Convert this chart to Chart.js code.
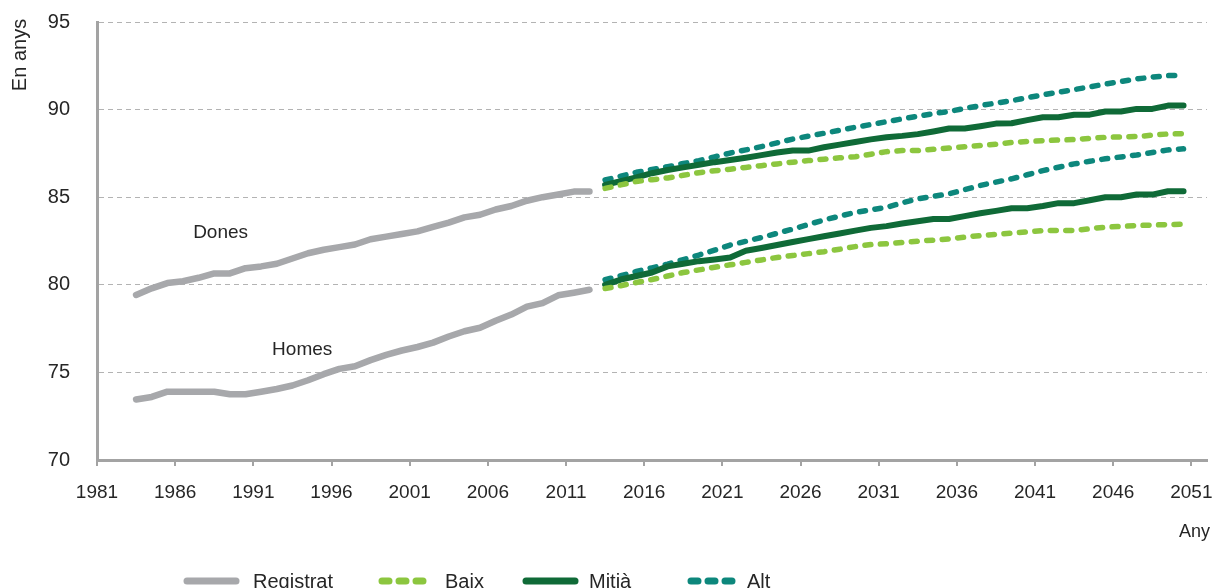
<!DOCTYPE html>
<html>
<head>
<meta charset="utf-8">
<title>Esperança de vida</title>
<script src="https://cdn.jsdelivr.net/npm/chart.js@4.4.1/dist/chart.umd.min.js"></script>
<style>
  html, body { margin: 0; padding: 0; background: #fff; }
  #wrap { width: 1216px; height: 588px; }
</style>
</head>
<body>
<div id="wrap"><canvas id="chart" width="1216" height="588"></canvas></div>
<script>
// years
const histYears = [1983, 1984, 1985, 1986, 1987, 1988, 1989, 1990, 1991, 1992, 1993, 1994, 1995, 1996, 1997,
  1998, 1999, 2000, 2001, 2002, 2003, 2004, 2005, 2006, 2007, 2008, 2009, 2010, 2011, 2012];
const projYears = [2013, 2014, 2015, 2016, 2017, 2018, 2019, 2020, 2021, 2022, 2023, 2024, 2025, 2026, 2027,
  2028, 2029, 2030, 2031, 2032, 2033, 2034, 2035, 2036, 2037, 2038, 2039, 2040, 2041, 2042, 2043, 2044, 2045,
  2046, 2047, 2048, 2049, 2050];
const tickLabels = ['1981', '1986', '1991', '1996', '2001', '2006', '2011', '2016', '2021', '2026', '2031',
  '2036', '2041', '2046', '2051'];

// registered values
const donesRegistrat = [79.42, 79.8, 80.1, 80.2, 80.4, 80.65, 80.65, 80.95, 81.05, 81.2, 81.5, 81.8, 82.0, 82.15,
  82.3, 82.6, 82.75, 82.9, 83.05, 83.3, 83.55, 83.85, 84.0, 84.3, 84.5, 84.8, 85.0, 85.15, 85.32, 85.32];
const homesRegistrat = [73.45, 73.6, 73.9, 73.9, 73.9, 73.9, 73.75, 73.75, 73.9, 74.05, 74.25, 74.55, 74.9, 75.2,
  75.35, 75.7, 76.0, 76.25, 76.45, 76.7, 77.05, 77.35, 77.55, 77.95, 78.3, 78.75, 78.95, 79.4, 79.55, 79.72];

// projections, women
const donesBaix = [85.5, 85.7, 85.9, 86.0, 86.1, 86.25, 86.4, 86.51, 86.6, 86.7, 86.8, 86.9, 87.0, 87.09, 87.17,
  87.25, 87.31, 87.45, 87.6, 87.66, 87.66, 87.74, 87.81, 87.88, 87.95, 88.03, 88.12, 88.18, 88.23, 88.26, 88.29,
  88.36, 88.42, 88.44, 88.46, 88.54, 88.61, 88.62];
const donesMitja = [85.7, 85.92, 86.13, 86.37, 86.55, 86.7, 86.85, 87.0, 87.12, 87.25, 87.4, 87.55, 87.66, 87.66,
  87.85, 88.0, 88.15, 88.3, 88.42, 88.5, 88.6, 88.75, 88.92, 88.92, 89.05, 89.2, 89.22, 89.4, 89.56, 89.56, 89.71,
  89.71, 89.89, 89.89, 90.04, 90.04, 90.23, 90.23];
const donesAlt = [85.98, 86.2, 86.42, 86.58, 86.74, 86.92, 87.09, 87.3, 87.52, 87.7, 87.89, 88.1, 88.32, 88.48,
  88.65, 88.82, 88.99, 89.15, 89.31, 89.47, 89.62, 89.77, 89.9, 90.06, 90.23, 90.37, 90.51, 90.68, 90.84, 90.99,
  91.14, 91.3, 91.46, 91.6, 91.75, 91.85, 91.94, 91.96];

// projections, men
const homesBaix = [79.79, 79.95, 80.13, 80.3, 80.5, 80.7, 80.85, 81.0, 81.14, 81.28, 81.42, 81.56, 81.67, 81.78,
  81.89, 82.03, 82.18, 82.3, 82.34, 82.42, 82.49, 82.55, 82.62, 82.72, 82.81, 82.88, 82.95, 83.02, 83.1, 83.1,
  83.1, 83.2, 83.29, 83.33, 83.38, 83.41, 83.44, 83.46];
const homesMitja = [80.0, 80.3, 80.5, 80.7, 81.05, 81.2, 81.35, 81.45, 81.56, 81.94, 82.1, 82.27, 82.44, 82.61,
  82.77, 82.93, 83.09, 83.25, 83.35, 83.5, 83.63, 83.76, 83.76, 83.92, 84.08, 84.22, 84.37, 84.37, 84.5, 84.66,
  84.66, 84.83, 85.0, 85.0, 85.15, 85.15, 85.34, 85.34];
const homesAlt = [80.29, 80.52, 80.76, 80.97, 81.18, 81.44, 81.7, 81.98, 82.27, 82.48, 82.7, 82.94, 83.18, 83.44,
  83.7, 83.92, 84.13, 84.28, 84.42, 84.68, 84.9, 85.05, 85.19, 85.43, 85.67, 85.86, 86.05, 86.28, 86.52, 86.71,
  86.9, 87.05, 87.19, 87.3, 87.41, 87.55, 87.7, 87.76];

const GREY = '#a7a8ab';
const LIGHT = '#8cc63f';
const DARK = '#0f6a37';
const TEAL = '#0d877c';
const FONT = '"Liberation Sans", Arial, sans-serif';
const TEXT = '#262626';

const toPoints = (years, vals) => years.map((yr, i) => ({ x: yr, y: vals[i] }));

function lineSet(label, years, vals, color, width, dashed) {
  return {
    label: label,
    data: toPoints(years, vals),
    borderColor: color,
    backgroundColor: color,
    borderWidth: width,
    borderDash: dashed ? [6, 9.5] : [],
    borderCapStyle: 'round',
    borderJoinStyle: 'round',
    pointRadius: 0,
    fill: false,
    tension: 0
  };
}

const datasets = [
  lineSet('Registrat', histYears, donesRegistrat, GREY, 6.5, false),
  lineSet('Registrat', histYears, homesRegistrat, GREY, 6.5, false),
  lineSet('Baix', projYears, donesBaix, LIGHT, 5.5, true),
  lineSet('Baix', projYears, homesBaix, LIGHT, 5.5, true),
  lineSet('Mitjà', projYears, donesMitja, DARK, 6, false),
  lineSet('Mitjà', projYears, homesMitja, DARK, 6, false),
  lineSet('Alt', projYears, donesAlt, TEAL, 5.5, true),
  lineSet('Alt', projYears, homesAlt, TEAL, 5.5, true)
];

// series names written on the plot
const notes = [
  { text: 'Dones', year: 1986.65, value: 82.96 },
  { text: 'Homes', year: 1991.7, value: 76.28 }
];

// legend entries drawn under the axis
const legendItems = [
  { label: 'Registrat', color: GREY, dashed: false, x: 184, textX: 253 },
  { label: 'Baix', color: LIGHT, dashed: true, x: 378, textX: 445 },
  { label: 'Mitjà', color: DARK, dashed: false, x: 523, textX: 589 },
  { label: 'Alt', color: TEAL, dashed: true, x: 687, textX: 747 }
];

const textPlugin = {
  id: 'extraText',
  afterDraw(chart) {
    const ctx = chart.ctx;
    const x = chart.scales.x;
    const y = chart.scales.y;
    ctx.save();
    ctx.fillStyle = TEXT;
    ctx.textBaseline = 'middle';

    ctx.font = '19px ' + FONT;
    ctx.textAlign = 'left';
    notes.forEach(n => ctx.fillText(n.text, x.getPixelForValue(n.year), y.getPixelForValue(n.value)));

    ctx.font = '18px ' + FONT;
    ctx.textAlign = 'right';
    ctx.fillText('Any', chart.chartArea.right + 3, 532);

    ctx.save();
    ctx.translate(20, 55);
    ctx.rotate(-Math.PI / 2);
    ctx.textAlign = 'center';
    ctx.font = '20px ' + FONT;
    ctx.fillText('En anys', 0, 0);
    ctx.restore();

    // legend
    const ly = 581;
    ctx.font = '20px ' + FONT;
    ctx.textAlign = 'left';
    ctx.textBaseline = 'alphabetic';
    legendItems.forEach(item => {
      ctx.save();
      ctx.strokeStyle = item.color;
      ctx.lineCap = 'round';
      ctx.lineWidth = 7;
      ctx.beginPath();
      if (item.dashed) {
        ctx.setLineDash([7, 10]);
        ctx.moveTo(item.x + 4, ly);
        ctx.lineTo(item.x + 46, ly);
      } else {
        ctx.moveTo(item.x + 3, ly);
        ctx.lineTo(item.x + 52, ly);
      }
      ctx.stroke();
      ctx.restore();
      ctx.fillText(item.label, item.textX, 588);
    });
    ctx.restore();
  }
};

new Chart(document.getElementById('chart').getContext('2d'), {
  type: 'line',
  data: { datasets: datasets },
  plugins: [textPlugin],
  options: {
    responsive: false,
    animation: false,
    layout: { padding: { top: 22, right: 9, left: 0, bottom: 0 } },
    plugins: {
      legend: { display: false },
      tooltip: { enabled: false }
    },
    scales: {
      x: {
        type: 'linear',
        min: 1980.5,
        max: 2051.5,
        afterBuildTicks: scale => {
          scale.ticks = tickLabels.map(t => ({ value: Number(t) - 0.5 }));
        },
        afterFit: scale => {
          scale.height = 128;
          scale.paddingLeft = 0;
          scale.paddingRight = 0;
        },
        ticks: {
          autoSkip: false,
          maxRotation: 0,
          padding: 15,
          color: TEXT,
          font: { family: FONT, size: 19 },
          callback: (value, index) => tickLabels[index]
        },
        grid: {
          drawOnChartArea: false,
          drawTicks: true,
          tickLength: 6,
          color: '#a3a3a3',
          lineWidth: 2
        },
        border: { display: true, color: '#a3a3a3', width: 3 }
      },
      y: {
        min: 70,
        max: 95,
        afterFit: scale => {
          scale.width = 97;
          scale.paddingTop = 0;
          scale.paddingBottom = 0;
        },
        ticks: {
          stepSize: 5,
          padding: 27,
          color: TEXT,
          font: { family: FONT, size: 20 }
        },
        grid: {
          drawTicks: false,
          lineWidth: 1,
          color: ctx => (ctx.tick && ctx.tick.value === 70) ? 'rgba(0,0,0,0)' : '#b3b3b3'
        },
        border: { display: true, color: '#a3a3a3', width: 3, dash: [5, 4] }
      }
    }
  }
});
</script>
</body>
</html>
